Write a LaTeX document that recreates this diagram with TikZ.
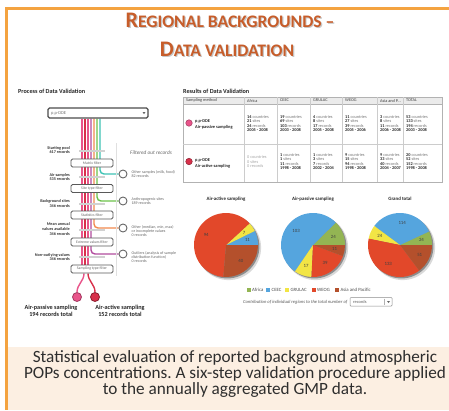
\documentclass[tikz,border=0pt]{standalone}
\usepackage{fontspec}
\setmainfont{Carlito}
\usetikzlibrary{calc}
\pgfdeclarelayer{back}
\pgfdeclarelayer{bg}
\pgfsetlayers{back,bg,main}
\frenchspacing

\definecolor{framec}{HTML}{F4A340}
\definecolor{titlec}{HTML}{C75D2A}
\definecolor{capbg}{HTML}{FCEFE2}
\definecolor{cAfr}{HTML}{93B553}
\definecolor{cCEEC}{HTML}{55A5DE}
\definecolor{cGRU}{HTML}{F2E545}
\definecolor{cWEOG}{HTML}{E2482A}
\definecolor{cAsia}{HTML}{B4502C}
\definecolor{lpink}{HTML}{E9548A}
\definecolor{lred}{HTML}{D8304A}
\definecolor{lpurple}{HTML}{B24C9E}
\definecolor{lorange}{HTML}{F28A4E}
\definecolor{lgreen}{HTML}{6CC24A}
\definecolor{lteal}{HTML}{3EC3B5}
\definecolor{wordc}{HTML}{777777}

\newcommand\cinfo[4]{\textbf{#1} \textcolor{wordc}{countries}\\\textbf{#2} \textcolor{wordc}{sites}\\\textbf{#3} \textcolor{wordc}{records}\\\textbf{#4}}
\newcommand\pwedge[6]{%
  \fill[#4] (#1) -- ++(#2:32pt) arc[start angle=#2, end angle=#3, radius=32pt] -- cycle;
  \pgfmathsetmacro\midang{(#2+#3)/2}
  \node[pnum] (#6) at ($(#1)+(\midang:22pt)$) {#5};}
\newcommand\titlei{{\fontsize{22.2}{22}\selectfont R}{\fontsize{17.6}{17}\selectfont EGIONAL BACKGROUNDS –}}
\newcommand\titleii{{\fontsize{22.2}{22}\selectfont D}{\fontsize{17.6}{17}\selectfont ATA VALIDATION}}

\begin{document}
\begin{tikzpicture}[x=1pt,y=-1pt,
  ttl/.style={font=\bfseries, text=titlec, anchor=base, inner sep=0},
  phead/.style={font=\bfseries\fontsize{6.2}{7}\selectfont, text=black!85, anchor=west, inner sep=0},
  flt/.style={rectangle, rounded corners=1.5pt, draw=black!65, line width=0.9pt, fill=white,
    minimum width=42pt, minimum height=8pt, inner sep=0, font=\fontsize{3.8}{4}\selectfont, text=black!60},
  outc/.style={circle, draw=black!60, line width=0.9pt, fill=white, minimum size=8pt, inner sep=0},
  lbl/.style={anchor=east, align=right, font=\bfseries\fontsize{4.2}{4.6}\selectfont, text=black!80, inner sep=0},
  olbl/.style={anchor=west, align=left, font=\fontsize{4}{4.4}\selectfont, text=black!60, inner sep=0},
  bar/.style={draw=black!18, line width=2pt},
  ln/.style={line width=1.4pt},
  hdr/.style={anchor=west, font=\fontsize{4.3}{4.5}\selectfont, text=black!75, inner sep=0},
  tcell/.style={anchor=west, align=left, font=\fontsize{4.3}{4.5}\selectfont, text=black!85, inner sep=0},
  rowl/.style={anchor=west, align=left, font=\bfseries\fontsize{4.4}{5.4}\selectfont, text=black!85, inner sep=0},
  pnum/.style={font=\fontsize{4.8}{5}\selectfont, text=black!75, inner sep=0},
  ptitle/.style={font=\bfseries\fontsize{4.9}{5}\selectfont, text=black!85, inner sep=0},
  lgd/.style={anchor=west, font=\fontsize{4.8}{5}\selectfont, text=black!70, inner sep=0},
  captxt/.style={align=center, font=\fontsize{17.2}{16}\selectfont, text=black!82, inner sep=0}]
\useasboundingbox (0,0) rectangle (449,410);
\begin{pgfonlayer}{back}
\fill[white] (0,0) rectangle (449,410);
\fill[capbg] (8,347) rectangle (449,410);
\end{pgfonlayer}

% frame
\fill[framec] (5,6.7) rectangle (449,9.5);
\fill[framec] (5,6.7) rectangle (7.8,410);

% title
\node[ttl, text=black, opacity=0.22] (t1s) at (231.2,28.2) {\titlei};
\node[ttl, text=black, opacity=0.22] (t2s) at (228.2,57.9) {\titleii};
\node[ttl] (t1) at (230,27) {\titlei};
\node[ttl] (t2) at (227,56.7) {\titleii};

% ---------------- left panel ----------------
\node[phead] (lhead) at (18,91.5) {Process of Data Validation};
\node[draw=black!70, line width=1.1pt, rounded corners=1.5pt, minimum width=100pt, minimum height=10pt, inner sep=0, fill=white] (dd) at (98,113) {};
\node[anchor=west, font=\fontsize{4.5}{5}\selectfont, text=black!55, inner sep=0] (ddt) at (51,113) {p,p-DDE};
\fill[black!60] (142.5,112) -- (145.5,112) -- (144,114.2) -- cycle;

\draw[black!12, line width=0.5pt] (116,143) -- (116,276);
\node[anchor=west, font=\itshape\fontsize{5.3}{6}\selectfont, text=black!60, inner sep=0] (filt) at (130,153) {Filtered out records};

\node[flt] (matrix) at (92,163) {Matrix filter};
\node[flt] (site) at (92,188.5) {Site type filter};
\node[flt] (stats) at (92,215) {Statistics filter};
\node[flt] (extreme) at (92,242) {Extreme values filter};
\node[flt] (stype) at (92,269) {Sampling type filter};

\node[outc] (o1) at (123,174) {};
\node[outc] (o2) at (123,201) {};
\node[outc] (o3) at (123,228) {};
\node[outc] (o4) at (123,254) {};

\node[circle, fill=lpink, draw=lpink!70!black, line width=0.8pt, minimum size=9pt, inner sep=0] (pas) at (77,297) {};
\node[circle, fill=lred, draw=lred!65!black, line width=0.8pt, minimum size=9pt, inner sep=0] (act) at (95,297) {};

\begin{pgfonlayer}{bg}
  \draw[ln, lpink] ([xshift=-16pt]dd.south) -- ([xshift=-10pt]stype.center);
  \draw[ln, lred] ([xshift=-13pt]dd.south) -- ([xshift=-7pt]stype.center);
  \draw[ln, lpink] ([xshift=-10pt]dd.south) -- ([xshift=-4pt]stype.center);
  \draw[ln, lpurple, rounded corners=4pt] ([xshift=-7pt]dd.south) |- (o4.west);
  \draw[ln, lorange, rounded corners=4pt] ([xshift=-4pt]dd.south) |- (o3.west);
  \draw[ln, lgreen, rounded corners=4pt] ([xshift=-1pt]dd.south) |- (o2.west);
  \draw[ln, lteal, rounded corners=4pt] ([xshift=2pt]dd.south) |- (o1.west);
  \draw[ln, lpink] ([xshift=-8pt]stype.south) to[out=-90, in=90] (pas.north);
  \draw[ln, lred] ([xshift=-4pt]stype.south) to[out=-90, in=90] (act.north);
\end{pgfonlayer}

\foreach \y in {150.5,177,203.5,229.5,256.5} \draw[bar] (79,\y) -- (105,\y);

\node[lbl] (l1) at (70,150) {Starting pool\\617 records};
\node[lbl] (l2) at (70,177) {Air samples\\535 records};
\node[lbl] (l3) at (70,203.5) {Background sites\\346 records};
\node[lbl] (l4) at (70,229) {Mean annual\\values available\\346 records};
\node[lbl] (l5) at (70,257) {Non-outlying values\\346 records};

\node[olbl] (ot1) at ([xshift=4pt]o1.east) {Other samples (milk, food)\\82 records};
\node[olbl] (ot2) at ([xshift=4pt]o2.east) {Anthropogenic sites\\189 records};
\node[olbl] (ot3) at ([xshift=4pt,yshift=-3pt]o3.east) {Other (median, min, max)\\or incomplete values\\0 records};
\node[olbl] (ot4) at ([xshift=4pt,yshift=-3pt]o4.east) {Outliers (analysis of sample\\distribution function)\\0 records};

\node[font=\bfseries\fontsize{6.2}{7}\selectfont, text=black!85, align=center, inner sep=0] (pasl) at (51,310.5) {Air-passive sampling\\194 records total};
\node[font=\bfseries\fontsize{6.2}{7}\selectfont, text=black!85, align=center, inner sep=0] (actl) at (120,310.5) {Air-active sampling\\152 records total};

% ---------------- right panel ----------------
\node[phead] (rhead) at (183,91.5) {Results of Data Validation};
\fill[black!8] (183,97) rectangle (442,104);
\draw[black!30, line width=0.6pt] (183,97) rectangle (442,182);
\draw[black!30, line width=0.6pt] (183,104) -- (442,104);
\draw[black!20, line width=0.5pt] (183,144) -- (442,144);
\foreach \x in {244,277,310,342,377,403} \draw[black!20, line width=0.5pt] (\x,97) -- (\x,182);

\foreach \x/\t/\n in {186/Sampling method/h0, 247/Africa/h1, 280/CEEC/h2, 313/GRULAC/h3, 345/WEOG/h4, 406/TOTAL/h6}
  \node[hdr] (\n) at (\x,100.6) {\t};
\node[hdr] (h5) at (380,100.6) {Asia and P.{}.{}.};

\node[circle, fill=lpink, draw=lpink!70!black, line width=0.5pt, minimum size=6.5pt, inner sep=0] (m1) at (189,123) {};
\node[rowl] (m1t) at (195,124.3) {p,p-DDE\\Air-passive sampling};
\node[circle, fill=lred, draw=lred!65!black, line width=0.5pt, minimum size=6.5pt, inner sep=0] (m2) at (189,161.5) {};
\node[rowl] (m2t) at (195,163.5) {p,p-DDE\\Air-active sampling};

\node[tcell] (c11) at (247,123.7) {\cinfo{14}{21}{24}{2005 - 2008}};
\node[tcell] (c12) at (280,123.7) {\cinfo{19}{69}{103}{2003 - 2008}};
\node[tcell] (c13) at (313,123.7) {\cinfo{4}{8}{17}{2005 - 2008}};
\node[tcell] (c14) at (345,123.7) {\cinfo{11}{27}{39}{2005 - 2006}};
\node[tcell] (c15) at (380,123.7) {\cinfo{3}{8}{11}{2006 - 2008}};
\node[tcell] (c16) at (406,123.7) {\cinfo{53}{133}{194}{2003 - 2008}};

\node[tcell, text=black!35] (c21) at (247,161.7) {0 countries\\0 sites\\0 records};
\node[tcell] (c22) at (280,161.7) {\cinfo{1}{1}{11}{1998 - 2008}};
\node[tcell] (c23) at (313,161.7) {\cinfo{1}{3}{7}{2002 - 2004}};
\node[tcell] (c24) at (345,161.7) {\cinfo{9}{15}{94}{1998 - 2008}};
\node[tcell] (c25) at (380,161.7) {\cinfo{9}{33}{40}{2004 - 2007}};
\node[tcell] (c26) at (406,161.7) {\cinfo{20}{52}{152}{1998 - 2008}};

% pies
\coordinate (pa) at (226,245);
\coordinate (pp) at (313,245);
\coordinate (pg) at (400,245);
\node[ptitle] (pat) at (226,199) {Air-active sampling};
\node[ptitle] (ppt) at (313,199) {Air-passive sampling};
\node[ptitle] (pgt) at (400,199) {Grand total};
\foreach \c in {pa,pp,pg} {
  \fill[black, opacity=0.15] ($(\c)+(2.6,2.6)$) circle (32.5pt);
  \fill[black, opacity=0.35] ($(\c)+(1.4,1.4)$) circle (32pt);
}
\pwedge{pa}{0}{26.05}{cCEEC}{11}{pa1}
\pwedge{pa}{26.05}{42.63}{cGRU}{7}{pa2}
\pwedge{pa}{42.63}{265.26}{cWEOG}{94}{pa3}
\pwedge{pa}{265.26}{360}{cAsia}{40}{pa4}

\pwedge{pp}{0}{44.54}{cAfr}{24}{pp1}
\pwedge{pp}{44.54}{235.67}{cCEEC}{103}{pp2}
\pwedge{pp}{235.67}{267.22}{cGRU}{17}{pp3}
\pwedge{pp}{267.22}{339.59}{cWEOG}{39}{pp4}
\pwedge{pp}{339.59}{360}{cAsia}{11}{pp5}

\pwedge{pg}{0}{24.97}{cAfr}{24}{pg1}
\pwedge{pg}{24.97}{143.58}{cCEEC}{114}{pg2}
\pwedge{pg}{143.58}{168.55}{cGRU}{24}{pg3}
\pwedge{pg}{168.55}{306.94}{cWEOG}{133}{pg4}
\pwedge{pg}{306.94}{360}{cAsia}{51}{pg5}

% legend
\foreach \x/\col/\t/\n in {246.5/cAfr/Africa/g1, 266/cCEEC/CEEC/g2, 285/cGRU/GRULAC/g3, 311.5/cWEOG/WEOG/g4, 335/cAsia/Asia and Pacific/g5} {
  \fill[\col] (\x,288) rectangle ++(4.2,4.2);
  \node[lgd] (\n) at (\x+5.5,290.1) {\t};
}
\node[anchor=east, font=\itshape\fontsize{4.6}{5}\selectfont, text=black!65, inner sep=0] (contr) at (347.5,302) {Contribution of individual regions to the total number of};
\node[draw=black!45, line width=0.5pt, rounded corners=0.8pt, minimum width=42pt, minimum height=8.5pt, inner sep=0] (rdd) at (371,301.8) {};
\node[anchor=west, font=\fontsize{4.4}{5}\selectfont, text=black!65, inner sep=0] (rddt) at (353,301.8) {records};
\draw[black!30, line width=0.4pt] (384.5,298.5) -- (384.5,305);
\fill[black!60] (387,301) -- (390,301) -- (388.5,303) -- cycle;

% caption
\node[captxt] (capt) at (235,374) {Statistical evaluation of reported background atmospheric\\POPs concentrations. A six-step validation procedure applied\\to the annually aggregated GMP data.};
\end{tikzpicture}
\end{document}
